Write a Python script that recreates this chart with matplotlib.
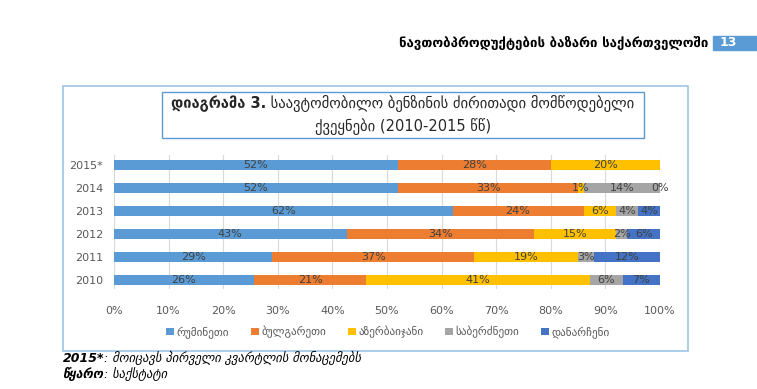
import numpy as np
import matplotlib.pyplot as plt
from matplotlib.patches import Rectangle

plt.rcParams['font.family'] = ['DejaVu Sans']

years = ['2010', '2011', '2012', '2013', '2014', '2015*']
countries = ['რუმინეთი', 'ბულგარეთი', 'აზერბაიჯანი', 'საბერძნეთი', 'დანარჩენი']
romania = [25.6, 29, 42.6, 62, 52, 52]
bulgaria = [20.6, 37, 34.4, 24, 33, 28]
azerbaijan = [41, 19, 15, 6, 1, 20]
greece = [6, 3, 2, 4, 14, 0]
other = [6.8, 12, 6, 4, 0, 0]
show_zero = [False, False, False, False, True, False]  # only 2014 prints a 0% label
colors = ['#5B9BD5', '#ED7D31', '#FFC000', '#A5A5A5', '#4472C4']

W, H = 757, 389
fig = plt.figure(figsize=(W / 100, H / 100), dpi=100)

def fx(px):
    return px / W

def fy(py):
    return 1 - py / H

# outer chart frame and title frame
fig.patches.append(Rectangle((fx(63), fy(351)), fx(688) - fx(63), fy(86) - fy(351),
                             transform=fig.transFigure, fill=False, ec='#9DC3E6', lw=1.2))
fig.patches.append(Rectangle((fx(162), fy(138)), fx(644) - fx(162), fy(92) - fy(138),
                             transform=fig.transFigure, fill=False, ec='#5B9BD5', lw=1.0))

ax = fig.add_axes([fx(114), fy(289), fx(660) - fx(114), fy(155) - fy(289)])

series = [romania, bulgaria, azerbaijan, greece, other]
y = np.arange(len(years))
left = np.zeros(len(years))
for k, (vals, c, name) in enumerate(zip(series, colors, countries)):
    vals = np.array(vals, dtype=float)
    ax.barh(y, vals / 100, left=left / 100, height=0.46, color=c, label=name)
    for i, v in enumerate(vals):
        if v > 0 or (k == 4 and show_zero[i]):
            ax.text((left[i] + v / 2) / 100, y[i], f'{v:.0f}%', ha='center', va='center',
                    fontsize=8, color='#404040')
    left += vals

ax.set_xlim(0, 1)
ax.set_ylim(-0.39, 5.43)
ax.set_yticks(y)
ax.set_yticklabels(years)
ax.set_xticks(np.linspace(0, 1, 11))
ax.set_xticklabels([f'{int(t)}%' for t in np.linspace(0, 100, 11)])
ax.tick_params(axis='both', length=0, labelsize=8, labelcolor='#595959')
ax.tick_params(axis='x', pad=12)
ax.tick_params(axis='y', pad=8)
for s in ax.spines.values():
    s.set_visible(False)
ax.grid(axis='x', color='#D9D9D9', lw=0.8)
ax.set_axisbelow(True)

fig.legend(loc='center', bbox_to_anchor=(fx(388), fy(332)), ncol=5, frameon=False,
           fontsize=8, handlelength=0.7, handleheight=0.7, handletextpad=0.2,
           columnspacing=2.0, labelcolor='#595959')

# title with bold lead-in
r = fig.canvas.get_renderer()
t1 = fig.text(0, fy(104), 'დიაგრამა 3.', fontsize=10.5, fontweight='bold', va='center', color='#262626')
t2 = fig.text(0, fy(104), ' საავტომობილო ბენზინის ძირითადი მომწოდებელი', fontsize=10.5,
              va='center', color='#262626')
w1 = t1.get_window_extent(r).width
w2 = t2.get_window_extent(r).width
x0 = (403 - (w1 + w2) / 2)
t1.set_x(fx(x0))
t2.set_x(fx(x0 + w1))
fig.text(fx(403), fy(127), 'ქვეყნები (2010-2015 წწ)', fontsize=10.5, ha='center', va='center',
         color='#262626')

# page header
fig.text(fx(708), fy(43), 'ნავთობპროდუქტების ბაზარი საქართველოში', fontsize=9.5,
         fontweight='bold', ha='right', va='center', color='black')
fig.patches.append(Rectangle((fx(713), fy(50)), fx(757) - fx(713), fy(36) - fy(50),
                             transform=fig.transFigure, color='#5B9BD5'))
fig.text(fx(728), fy(43), '13', fontsize=9, fontweight='bold', color='white', ha='center', va='center')

# footnotes
f1 = fig.text(fx(63), fy(358), '2015*', fontsize=9, fontweight='bold', style='italic', va='center')
wa = f1.get_window_extent(r).width
fig.text(fx(63 + wa), fy(358), ': მოიცავს პირველი კვარტლის მონაცემებს', fontsize=9,
         style='italic', va='center')
f2 = fig.text(fx(63), fy(374), 'წყარო', fontsize=9, fontweight='bold', style='italic', va='center')
wb = f2.get_window_extent(r).width
fig.text(fx(63 + wb), fy(374), ': საქსტატი', fontsize=9, style='italic', va='center')

fig.savefig('out.png', dpi=100)
